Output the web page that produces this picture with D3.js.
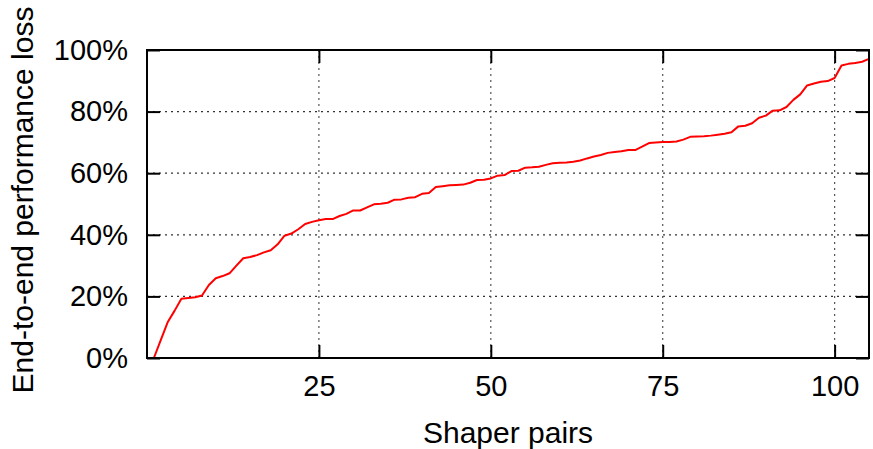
<!DOCTYPE html>
<html>
<head>
<meta charset="utf-8">
<script src="https://cdn.jsdelivr.net/npm/d3@7"></script>
<style>
  body { margin: 0; background: #fff; }
  text { font-family: "Liberation Sans", Arial, sans-serif; fill: #000; }
</style>
</head>
<body>
<div id="chart"></div>
<script>
// loss (%) per shaper pair, sorted ascending; pairs are 1..105
var lossValues = [
  0, 5.8, 11.6, 15.3, 19.2, 19.5, 19.7, 20.3, 23.7, 25.9,
  26.6, 27.5, 30.0, 32.4, 32.8, 33.4, 34.3, 35.0, 36.9, 39.7,
  40.4, 41.8, 43.5, 44.2, 44.7, 45.1, 45.1, 46.1, 46.8, 47.9,
  47.9, 48.9, 49.9, 50.1, 50.4, 51.4, 51.5, 52.0, 52.2, 53.3,
  53.6, 55.5, 55.8, 56.1, 56.2, 56.3, 56.9, 57.8, 57.9, 58.3,
  59.2, 59.4, 60.7, 60.8, 61.8, 61.9, 62.1, 62.7, 63.2, 63.4,
  63.5, 63.7, 64.1, 64.8, 65.4, 65.9, 66.6, 66.9, 67.1, 67.5,
  67.5, 68.6, 69.8, 70.0, 70.1, 70.1, 70.3, 70.9, 71.8, 71.9,
  72.0, 72.2, 72.5, 72.8, 73.3, 75.2, 75.4, 76.2, 78.0, 78.7,
  80.3, 80.4, 81.5, 83.8, 85.6, 88.5, 89.1, 89.7, 89.9, 90.9,
  95.0, 95.5, 95.8, 96.2, 97.1
];
var xTicks = [25, 50, 75, 100];
var yTicks = [0, 20, 40, 60, 80, 100];
var xLabel = 'Shaper pairs';
var yLabel = 'End-to-end performance loss';

var data = lossValues.map(function (v, i) { return { pair: i + 1, loss: v }; });

var W = 873, H = 449;
var margin = { top: 50, right: 4, bottom: 91, left: 147 };
var w = W - margin.left - margin.right,
  h = H - margin.top - margin.bottom;

var svg = d3.select('#chart').append('svg').attr('width', W).attr('height', H);
var g = svg.append('g').attr('transform', 'translate(' + margin.left + ',' + margin.top + ')');

var x = d3.scaleLinear().domain([0, 105]).range([0, w]);
var y = d3.scaleLinear().domain([0, 100]).range([h, 0]);

// grid
g.append('g').selectAll('line.gy')
  .data(yTicks.filter(function (t) { return t > 0 && t < 100; }))
  .enter().append('line')
  .attr('x1', 0).attr('x2', w)
  .attr('y1', function (d) { return y(d); }).attr('y2', function (d) { return y(d); })
  .attr('stroke', '#333').attr('stroke-width', 1.2).attr('stroke-dasharray', '2,4');
g.append('g').selectAll('line.gx')
  .data(xTicks)
  .enter().append('line')
  .attr('y1', 0).attr('y2', h)
  .attr('x1', function (d) { return x(d); }).attr('x2', function (d) { return x(d); })
  .attr('stroke', '#555').attr('stroke-width', 1.2).attr('stroke-dasharray', '2,4');

// axes, ticks mirrored inward like gnuplot
var tl = 13;
g.append('g').attr('transform', 'translate(0,' + h + ')')
  .call(d3.axisBottom(x).tickValues(xTicks).tickSizeInner(-tl).tickSizeOuter(0).tickPadding(17))
  .call(function (a) { a.select('.domain').remove(); });
g.append('g')
  .call(d3.axisTop(x).tickValues(xTicks).tickSizeInner(-tl).tickSizeOuter(0).tickFormat(''))
  .call(function (a) { a.select('.domain').remove(); });
g.append('g')
  .call(d3.axisLeft(y).tickValues(yTicks).tickSizeInner(-tl).tickSizeOuter(0).tickPadding(19)
    .tickFormat(function (d) { return d + '%'; }))
  .call(function (a) { a.select('.domain').remove(); });
g.append('g').attr('transform', 'translate(' + w + ',0)')
  .call(d3.axisRight(y).tickValues(yTicks).tickSizeInner(-tl).tickSizeOuter(0).tickFormat(''))
  .call(function (a) { a.select('.domain').remove(); });

g.selectAll('.tick line').attr('stroke', '#000').attr('stroke-width', 2);
g.selectAll('.tick text').style('font-size', '29px').attr('fill', '#000')
  .style('font-family', '"Liberation Sans", Arial, sans-serif');

// data line
var line = d3.line()
  .x(function (d) { return x(d.pair); })
  .y(function (d) { return y(d.loss); });
g.append('path').datum(data)
  .attr('d', line)
  .attr('fill', 'none')
  .attr('stroke', '#ff0000')
  .attr('stroke-width', 2)
  .attr('stroke-linejoin', 'round');

// frame
g.append('rect')
  .attr('x', 0).attr('y', 0).attr('width', w).attr('height', h)
  .attr('fill', 'none').attr('stroke', '#000').attr('stroke-width', 2);

// labels
svg.append('text')
  .attr('x', margin.left + x(52.5)).attr('y', 443)
  .attr('text-anchor', 'middle')
  .style('font-size', '30px')
  .text(xLabel);
svg.append('text')
  .attr('transform', 'translate(33,200) rotate(-90)')
  .attr('text-anchor', 'middle')
  .style('font-size', '30px')
  .text(yLabel);
</script>
</body>
</html>
